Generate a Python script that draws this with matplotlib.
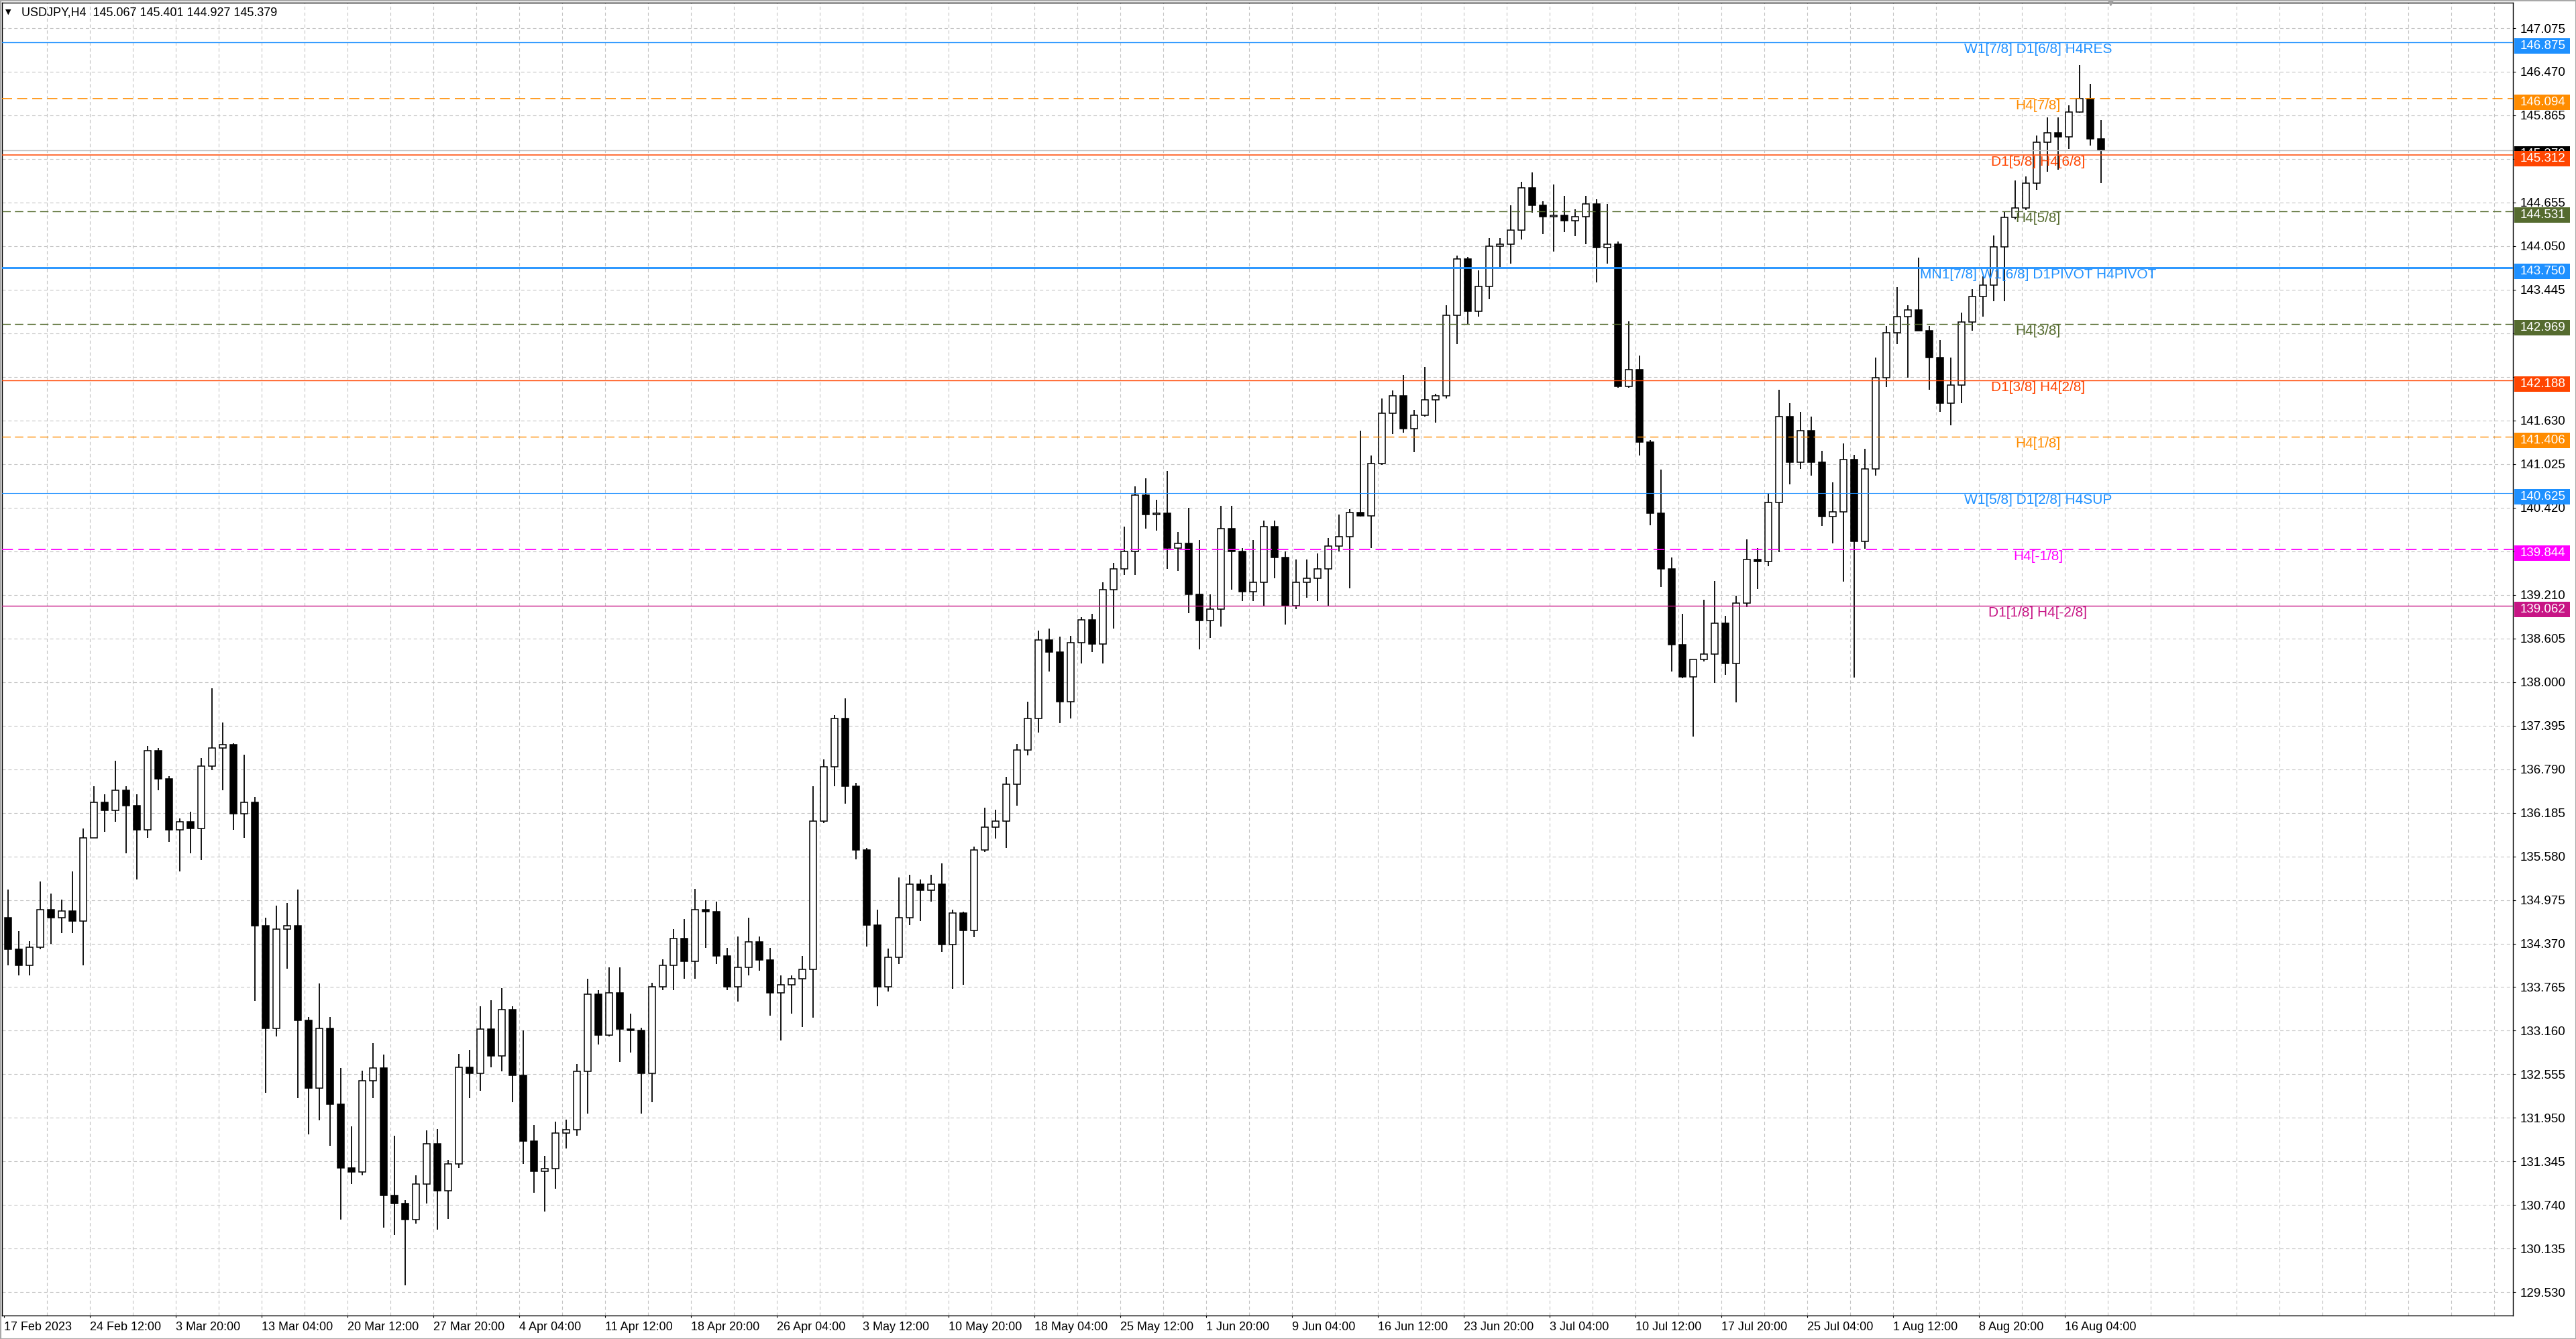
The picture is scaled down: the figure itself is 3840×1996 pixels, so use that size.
import matplotlib
matplotlib.use("Agg")
import matplotlib.pyplot as plt
from matplotlib.patches import Rectangle
import matplotlib.transforms as mtransforms

# USDJPY H4; every candle groups 4 H4 bars (16 hours)
opens = [
    134.73, 134.29, 134.07, 134.32, 134.84, 134.73, 134.82, 134.68, 135.84, 136.33,
    136.22, 136.50, 136.28, 135.95, 137.05, 136.66, 135.95, 136.06, 135.97, 136.83,
    137.08, 137.13, 136.17, 136.33, 134.62, 133.19, 134.57, 134.62, 133.30, 132.36,
    133.19, 132.14, 131.26, 131.20, 132.47, 132.64, 130.87, 130.76, 130.54, 131.03,
    131.59, 130.94, 131.31, 132.65, 132.57, 133.18, 132.81, 133.45, 132.54, 131.63,
    131.21, 131.25, 131.74, 131.79, 132.60, 133.67, 133.10, 133.69, 133.18, 133.16,
    132.57, 133.77, 134.07, 134.44, 134.12, 134.84, 134.81, 134.20, 133.77, 134.04,
    134.39, 134.14, 133.69, 133.80, 133.88, 134.01, 136.07, 136.82, 137.49, 136.55,
    135.67, 134.63, 133.77, 134.18, 134.73, 135.19, 135.11, 135.19, 134.36, 134.79,
    134.55, 135.67, 135.99, 136.07, 136.58, 137.06, 137.49, 138.58, 138.42, 137.73,
    138.55, 138.86, 138.53, 139.28, 139.57, 139.81, 140.59, 140.32, 140.34, 139.86,
    139.92, 139.22, 138.85, 139.01, 140.13, 139.81, 139.25, 139.38, 140.16, 139.73,
    139.06, 139.38, 139.44, 139.57, 139.89, 140.02, 140.35, 140.31, 141.03, 141.73,
    141.97, 141.52, 141.70, 141.92, 141.97, 143.09, 143.87, 143.15, 143.49, 144.05,
    144.08, 144.27, 144.86, 144.62, 144.46, 144.48, 144.40, 144.46, 144.64, 144.03,
    144.08, 142.10, 142.34, 141.33, 140.34, 139.57, 138.52, 138.07, 138.31, 138.39,
    138.82, 138.26, 139.10, 139.70, 139.67, 140.49, 141.68, 141.05, 141.49, 141.05,
    140.30, 140.36, 141.09, 139.95, 140.96, 142.22, 142.85, 143.07, 143.16, 142.88,
    142.50, 141.87, 142.12, 143.00, 143.35, 143.51, 144.04, 144.45, 144.58, 144.92,
    145.49, 145.62, 145.57, 145.91, 146.10, 145.54,
]
highs = [
    135.12, 134.54, 134.40, 135.23, 135.06, 134.98, 135.37, 135.97, 136.55, 136.44,
    136.91, 136.55, 136.44, 137.11, 137.08, 136.69, 136.11, 136.20, 136.94, 137.91,
    137.44, 137.15, 136.99, 136.40, 134.73, 134.90, 134.93, 135.12, 133.35, 133.82,
    133.35, 132.64, 131.83, 132.61, 132.99, 132.83, 131.70, 130.81, 131.15, 131.78,
    131.80, 131.37, 132.84, 132.89, 133.50, 133.58, 133.75, 133.50, 133.16, 131.85,
    131.42, 131.90, 131.93, 132.70, 133.88, 133.72, 134.04, 134.04, 133.40, 133.20,
    133.83, 134.15, 134.57, 134.71, 135.13, 134.97, 134.95, 134.31, 134.47, 134.73,
    134.47, 134.31, 133.93, 133.93, 134.20, 136.55, 136.93, 137.54, 137.77, 136.60,
    135.70, 134.84, 134.30, 135.29, 135.32, 135.26, 135.32, 135.48, 134.84, 134.81,
    135.72, 136.26, 136.23, 136.68, 137.14, 137.73, 138.71, 138.74, 138.63, 138.64,
    138.90, 138.95, 139.38, 139.65, 140.16, 140.72, 140.83, 140.53, 140.93, 140.08,
    140.42, 139.97, 139.22, 140.45, 140.45, 139.86, 139.97, 140.24, 140.24, 139.81,
    139.70, 139.70, 139.78, 140.00, 140.32, 140.40, 141.49, 141.14, 141.94, 142.05,
    142.26, 141.78, 142.37, 142.00, 143.23, 143.92, 143.90, 143.71, 144.16, 144.16,
    144.62, 144.94, 145.07, 144.67, 144.91, 144.75, 144.56, 144.75, 144.70, 144.64,
    144.11, 143.01, 142.53, 141.36, 140.95, 139.73, 138.95, 138.15, 139.14, 139.40,
    138.92, 139.20, 139.98, 139.86, 140.61, 142.06, 141.87, 141.75, 141.68, 141.21,
    140.77, 141.31, 141.15, 141.24, 142.50, 142.94, 143.48, 143.23, 143.89, 142.94,
    142.75, 142.50, 143.13, 143.45, 143.63, 144.20, 144.52, 144.96, 145.02, 145.59,
    145.84, 145.84, 146.00, 146.56, 146.30, 145.80,
]
lows = [
    134.07, 133.93, 133.93, 134.29, 134.37, 134.51, 134.51, 134.07, 135.84, 135.92,
    136.06, 135.62, 135.26, 135.84, 136.50, 135.78, 135.37, 135.62, 135.53, 136.78,
    136.50, 135.95, 135.84, 133.57, 132.30, 133.08, 134.02, 132.22, 131.72, 131.92,
    131.56, 130.54, 131.03, 131.15, 132.22, 130.43, 130.32, 129.63, 130.48, 130.76,
    130.40, 130.55, 131.26, 132.22, 132.33, 132.65, 132.60, 132.17, 131.31, 130.91,
    130.65, 130.97, 131.53, 131.70, 132.01, 132.97, 133.08, 132.73, 132.86, 132.01,
    132.17, 133.72, 133.72, 133.88, 133.88, 134.31, 134.09, 133.72, 133.56, 133.93,
    133.99, 133.37, 133.02, 133.40, 133.21, 133.34, 136.04, 136.55, 136.31, 135.54,
    134.33, 133.50, 133.70, 134.09, 134.63, 134.68, 134.95, 134.25, 133.74, 133.80,
    134.46, 135.64, 135.83, 135.70, 136.28, 136.98, 137.30, 138.15, 137.43, 137.49,
    138.26, 138.42, 138.26, 138.74, 139.49, 139.49, 140.13, 140.10, 139.57, 139.54,
    138.96, 138.45, 138.61, 138.77, 139.28, 139.12, 139.12, 139.06, 139.44, 138.80,
    139.01, 139.17, 139.12, 139.06, 139.81, 139.30, 140.30, 139.86, 141.01, 141.44,
    141.46, 141.19, 141.68, 141.60, 141.94, 142.69, 142.96, 143.07, 143.31, 143.76,
    143.81, 144.14, 144.51, 144.22, 143.97, 144.24, 144.19, 144.08, 143.55, 143.81,
    142.08, 142.08, 141.14, 140.18, 139.32, 138.15, 138.05, 137.24, 138.29, 137.99,
    138.10, 137.72, 139.04, 139.29, 139.61, 139.80, 140.74, 140.96, 140.86, 140.17,
    139.92, 139.39, 138.06, 139.85, 140.86, 142.09, 142.69, 142.22, 142.88, 142.06,
    141.75, 141.56, 141.87, 142.88, 143.07, 143.29, 143.29, 144.42, 144.55, 144.83,
    145.08, 145.11, 145.40, 145.90, 145.45, 144.92,
]
closes = [
    134.29, 134.07, 134.32, 134.84, 134.73, 134.82, 134.68, 135.84, 136.33, 136.22,
    136.50, 136.28, 135.95, 137.05, 136.66, 135.95, 136.06, 135.97, 136.83, 137.08,
    137.13, 136.17, 136.33, 134.62, 133.19, 134.57, 134.62, 133.30, 132.36, 133.19,
    132.14, 131.26, 131.20, 132.47, 132.64, 130.87, 130.76, 130.54, 131.03, 131.59,
    130.94, 131.31, 132.65, 132.57, 133.18, 132.81, 133.45, 132.54, 131.63, 131.21,
    131.25, 131.74, 131.79, 132.60, 133.67, 133.10, 133.69, 133.18, 133.16, 132.57,
    133.77, 134.07, 134.44, 134.12, 134.84, 134.81, 134.20, 133.77, 134.04, 134.39,
    134.14, 133.69, 133.80, 133.88, 134.01, 136.07, 136.82, 137.49, 136.55, 135.67,
    134.63, 133.77, 134.18, 134.73, 135.19, 135.11, 135.19, 134.36, 134.79, 134.55,
    135.67, 135.99, 136.07, 136.58, 137.06, 137.49, 138.58, 138.42, 137.73, 138.55,
    138.86, 138.53, 139.28, 139.57, 139.81, 140.59, 140.32, 140.34, 139.86, 139.92,
    139.22, 138.85, 139.01, 140.13, 139.81, 139.25, 139.38, 140.16, 139.73, 139.06,
    139.38, 139.44, 139.57, 139.89, 140.02, 140.35, 140.31, 141.03, 141.73, 141.97,
    141.52, 141.70, 141.92, 141.97, 143.09, 143.87, 143.15, 143.49, 144.05, 144.08,
    144.27, 144.86, 144.62, 144.46, 144.48, 144.40, 144.46, 144.64, 144.03, 144.08,
    142.10, 142.34, 141.33, 140.34, 139.57, 138.52, 138.07, 138.31, 138.39, 138.82,
    138.26, 139.10, 139.70, 139.67, 140.49, 141.68, 141.05, 141.49, 141.05, 140.30,
    140.36, 141.09, 139.95, 140.96, 142.22, 142.85, 143.07, 143.16, 142.88, 142.50,
    141.87, 142.12, 143.00, 143.35, 143.51, 144.04, 144.45, 144.58, 144.92, 145.49,
    145.62, 145.57, 145.91, 146.10, 145.54, 145.379,
]
BARS_PER_CANDLE = 4

# time axis, one label every 32 H4 bars
date_labels = [
    "17 Feb 2023", "24 Feb 12:00", "3 Mar 20:00", "13 Mar 04:00", "20 Mar 12:00",
    "27 Mar 20:00", "4 Apr 04:00", "11 Apr 12:00", "18 Apr 20:00", "26 Apr 04:00",
    "3 May 12:00", "10 May 20:00", "18 May 04:00", "25 May 12:00", "1 Jun 20:00",
    "9 Jun 04:00", "16 Jun 12:00", "23 Jun 20:00", "3 Jul 04:00", "10 Jul 12:00",
    "17 Jul 20:00", "25 Jul 04:00", "1 Aug 12:00", "8 Aug 20:00", "16 Aug 04:00",
]
DATE_STEP = 32
GRID_STEP = 16

price_ticks = [
    147.075, 146.470, 145.865, 145.260, 144.655, 144.050, 143.445, 142.840, 142.235, 141.630,
    141.025, 140.420, 139.815, 139.210, 138.605, 138.000, 137.395, 136.790, 136.185, 135.580,
    134.975, 134.370, 133.765, 133.160, 132.555, 131.950, 131.345, 130.740, 130.135, 129.530,
]

# Murrey math levels drawn on the chart
level_prices = [146.875, 146.094, 145.312, 144.531, 143.750, 142.969,
                142.188, 141.406, 140.625, 139.844, 139.062]
level_names = ["W1[7/8] D1[6/8] H4RES", "H4[7/8]", "D1[5/8] H4[6/8]", "H4[5/8]",
               "MN1[7/8] W1[6/8] D1PIVOT H4PIVOT", "H4[3/8]", "D1[3/8] H4[2/8]",
               "H4[1/8]", "W1[5/8] D1[2/8] H4SUP", "H4[-1/8]", "D1[1/8] H4[-2/8]"]
level_colors = ["#1E90FF", "#FF8C00", "#FF4500", "#556B2F", "#1E90FF", "#556B2F",
                "#FF4500", "#FF8C00", "#1E90FF", "#FF00FF", "#C71585"]
level_dashed = [False, True, False, True, False, True, False, True, False, True, False]
level_widths = [1.0, 1.2, 1.1, 1.0, 2.0, 1.0, 1.0, 1.0, 0.8, 1.3, 1.0]

last_price = 145.379
header = "USDJPY,H4  145.067 145.401 144.927 145.379"
LABEL_BAR = 758

W, H = 3840, 1996
fig = plt.figure(figsize=(W / 100, H / 100), dpi=100)
ax = fig.add_axes([3 / W, 35 / H, 3743 / W, 1957 / H])
ax.set_xlim(-0.75, 935)
ax.set_ylim(129.207, 147.429)
px_per_price = 1957 / (147.429 - 129.207)

# grid
for gx in range(GRID_STEP, 935, GRID_STEP):
    ax.axvline(gx, color="#C4C4C4", lw=0.8, ls=(0, (4.5, 3.5)), zorder=0)
for gy in price_ticks:
    ax.axhline(gy, color="#C4C4C4", lw=0.8, ls=(0, (4.5, 3.5)), zorder=0)

# candles
body_w = 2.6
for i in range(len(closes)):
    o, h, l, c = opens[i], highs[i], lows[i], closes[i]
    x = i * BARS_PER_CANDLE + 1.5
    ax.plot([x, x], [l, h], color="black", lw=1.3, zorder=2, solid_capstyle="butt")
    bottom = min(o, c)
    height = max(abs(c - o), 0.012)
    face = "black" if c < o else "white"
    ax.add_patch(Rectangle((x - body_w / 2, bottom), body_w, height,
                           facecolor=face, edgecolor="black", lw=1.1, zorder=2.1))

# current price line
ax.axhline(last_price, color="#C0C0C0", lw=1.0, zorder=2.5)

# levels and their labels
for p, name, col, dashed, lw in zip(level_prices, level_names, level_colors,
                                    level_dashed, level_widths):
    ls = (0, (9, 4.5)) if dashed else "solid"
    ax.axhline(p, color=col, lw=lw, ls=ls, zorder=3)
    ax.text(LABEL_BAR, p - 1 / px_per_price, name, ha="center", va="top", color=col,
            fontsize=15, family=["Liberation Sans", "DejaVu Sans"], zorder=4)

# axes styling
for s in ax.spines.values():
    s.set_color("black")
    s.set_linewidth(1.0)
ax.yaxis.tick_right()
ax.set_yticks(price_ticks)
ax.set_yticklabels([f"{t:.3f}" for t in price_ticks])
ax.tick_params(axis="y", direction="out", length=3, width=0.8, pad=5,
               labelsize=13.5, colors="black")
ax.set_xticks([k * DATE_STEP for k in range(len(date_labels))])
ax.set_xticklabels(date_labels)
ax.tick_params(axis="x", direction="out", length=2.5, width=0.8, pad=4,
               labelsize=13, colors="black")
for lbl in ax.get_xticklabels() + ax.get_yticklabels():
    lbl.set_family(["Liberation Sans", "DejaVu Sans"])
for lbl in ax.get_xticklabels():
    lbl.set_ha("left")

# price tags on the right scale
trans = mtransforms.blended_transform_factory(ax.transAxes, ax.transData)
tag_w = 83 / 3743
tag_top = 6 / px_per_price
tag_h = 23 / px_per_price
tag_prices = [last_price] + level_prices
tag_colors = ["black"] + level_colors

# the scale labels that sit under a tag are hidden in the terminal
for t, lbl in zip(price_ticks, ax.get_yticklabels()):
    if any(p - tag_h + tag_top - 0.04 <= t <= p + tag_top + 0.06 for p in tag_prices):
        lbl.set_visible(False)

for p, col in zip(tag_prices, tag_colors):
    ax.add_patch(Rectangle((1.0 + 2 / 3743, p + tag_top - tag_h), tag_w, tag_h,
                           transform=trans, facecolor=col, edgecolor="none",
                           clip_on=False, zorder=5))
    txt = ax.text(1.0 + 11 / 3743, p - 5.5 / px_per_price, f"{p:.3f}", transform=trans,
                  ha="left", va="center", color="white", fontsize=13.5,
                  family=["Liberation Sans", "DejaVu Sans"], clip_on=False, zorder=6)
    if p == last_price:
        # the black tag is partly covered by the D1[5/8] tag just below it
        below = max(q for q in level_prices if q < p)
        vis_bottom = below + tag_top
        clip = Rectangle((1.0, vis_bottom), 0.05, p + tag_top - vis_bottom, transform=trans)
        txt.set_clip_on(True)
        txt.set_clip_path(clip)

# chart shift marker at the top
shift_x = len(closes) * BARS_PER_CANDLE + 1
ax.plot([shift_x], [1.0], marker="v", color="#A0A0A0", markersize=6,
        transform=mtransforms.blended_transform_factory(ax.transData, ax.transAxes),
        clip_on=False, zorder=6)

# header
fig.text(8 / W, 1 - 18 / H, "\u25BC", fontsize=8, va="center", ha="left",
         family="DejaVu Sans", color="black")
fig.text(32 / W, 1 - 19 / H, header, fontsize=13, va="center", ha="left",
         family=["Liberation Sans", "DejaVu Sans"], color="black")

# window frame
fig.add_artist(Rectangle((0.5 / W, 0.5 / H), 1 - 1 / W, 1 - 1 / H, transform=fig.transFigure,
                         fill=False, edgecolor="#A8A8A8", lw=1.5))

fig.savefig("out.png", dpi=100, facecolor="white")
